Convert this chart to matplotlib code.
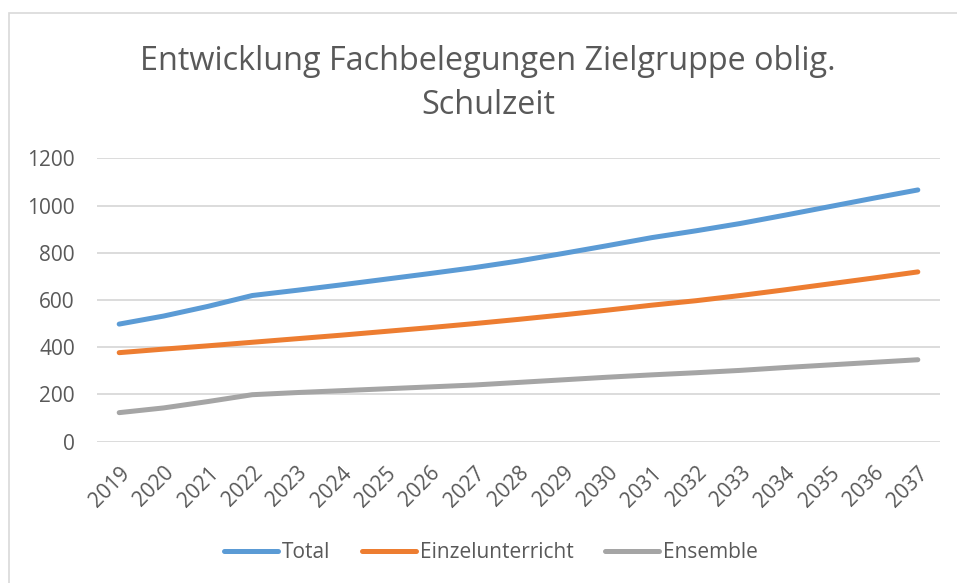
import matplotlib
matplotlib.use('Agg')
import matplotlib.pyplot as plt
from matplotlib.patches import Rectangle

plt.rcParams['font.family'] = ['Open Sans', 'DejaVu Sans']

# === DATA ===
years = [str(y) for y in range(2019, 2038)]
total = [498, 532, 573, 619, 641, 664, 688, 712, 737, 765,
         797, 830, 864, 893, 924, 959, 995, 1031, 1066]
einzel = [377, 392, 406, 421, 436, 451, 467, 483, 500, 518,
          537, 557, 578, 597, 619, 643, 668, 693, 719]
ensemble = [123, 143, 170, 199, 208, 216, 224, 232, 240, 251,
            262, 273, 283, 292, 302, 314, 325, 336, 347]
series_names = ['Total', 'Einzelunterricht', 'Ensemble']
colors = ['#5B9BD5', '#ED7D31', '#A5A5A5']
yticks = [0, 200, 400, 600, 800, 1000, 1200]

title = 'Entwicklung Fachbelegungen Zielgruppe oblig.\nSchulzeit'
text_col = '#595959'
grid_col = '#D9D9D9'

# === PLOT ===
W, H = 957, 583
fig = plt.figure(figsize=(W / 100, H / 100), dpi=100)
ax = fig.add_axes([97 / W, 1 - 441.7 / H, (940 - 97) / W, (441.7 - 158.3) / H])

x = list(range(len(years)))
for vals, name, col in zip([total, einzel, ensemble], series_names, colors):
    ax.plot(x, vals, color=col, lw=3.6, solid_capstyle='round',
            solid_joinstyle='round', label=name)

ax.set_xlim(-0.5, len(years) - 0.5)
ax.set_ylim(0, 1200)
ax.set_yticks(yticks)
ax.set_yticklabels([str(v) for v in yticks])
ax.yaxis.grid(True, color=grid_col, lw=1.3)
ax.set_axisbelow(True)
for s in ax.spines.values():
    s.set_visible(False)

ax.set_xticks(x)
ax.set_xticklabels(years, rotation=45, ha='right', va='top',
                   rotation_mode='anchor')
ax.tick_params(axis='x', length=0, pad=15, labelsize=15, colors=text_col)
ax.tick_params(axis='y', length=0, pad=16, labelsize=15, colors=text_col)

# title
fig.text(488 / W, 1 - 45 / H, title, ha='center', va='top', fontsize=23.3,
         color=text_col, linespacing=1.42)

# legend
leg = ax.legend(loc='center', bbox_to_anchor=(491 / W, 1 - 553 / H),
                bbox_transform=fig.transFigure, ncol=3, frameon=False,
                fontsize=15, handlelength=2.6, handletextpad=0.2,
                columnspacing=1.5)
for t in leg.get_texts():
    t.set_color(text_col)

# chart border
fig.patches.append(Rectangle((9 / W, -0.1), 1.2, 1 - 13 / H + 0.1,
                             transform=fig.transFigure, fill=False,
                             edgecolor=grid_col, lw=1.2))

fig.savefig('out.png', dpi=100)
plt.close()
